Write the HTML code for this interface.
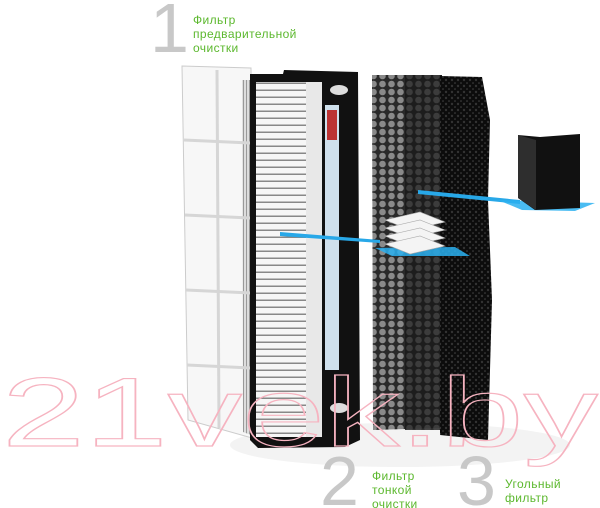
<!DOCTYPE html>
<html><head><meta charset="utf-8"><style>
html,body{margin:0;padding:0;background:#fff;width:600px;height:508px;overflow:hidden}
svg{display:block}
.g{font-family:"Liberation Sans","DejaVu Sans",sans-serif;fill:#5cb82e;font-size:12px;letter-spacing:0.4px}
.n{font-family:"Liberation Sans",sans-serif;fill:#c8c8c8;font-size:70px}
</style></head><body>
<svg width="600" height="508" viewBox="0 0 600 508" xmlns="http://www.w3.org/2000/svg">
<defs>
<pattern id="pl" width="10" height="7" patternUnits="userSpaceOnUse">
<rect width="10" height="7" fill="#f6f6f6"/><rect y="5.5" width="10" height="1.5" fill="#888"/>
</pattern>
<pattern id="hex" width="9" height="8" patternUnits="userSpaceOnUse">
<rect width="9" height="8" fill="#2a2a2a"/><circle cx="4.5" cy="4" r="3.3" fill="#8a8a8a"/>
</pattern>
<pattern id="hex2" width="9" height="8" patternUnits="userSpaceOnUse">
<rect width="9" height="8" fill="#1c1c1c"/><circle cx="4.5" cy="4" r="3.3" fill="#333"/>
</pattern>
<pattern id="foam" width="6" height="6" patternUnits="userSpaceOnUse">
<rect width="6" height="6" fill="#0c0c0c"/><circle cx="2" cy="2" r="1.2" fill="#333"/><circle cx="5" cy="5" r="0.8" fill="#444"/>
</pattern>
<pattern id="mesh" width="3" height="3" patternUnits="userSpaceOnUse">
<rect width="3" height="3" fill="#ddd"/><rect width="1" height="3" fill="#999"/>
</pattern>
</defs>

<ellipse cx="400" cy="445" rx="170" ry="22" fill="#f3f3f3"/>

<text class="n" x="150" y="52">1</text>
<text class="g"><tspan x="193" y="24">Фильтр</tspan><tspan x="193" y="38">предварительной</tspan><tspan x="193" y="52">очистки</tspan></text>

<!-- prefilter -->
<polygon points="182,66 251,68 252,438 188,420" fill="#f7f7f7" stroke="#ccc"/>
<polygon points="242,80 250,80 251,435 243,432" fill="url(#mesh)"/>
<g stroke="#d6d6d6" stroke-width="3" fill="none">
<line x1="217" y1="70" x2="219" y2="428"/>
<line x1="184" y1="140" x2="250" y2="143"/>
<line x1="185" y1="215" x2="250" y2="218"/>
<line x1="186" y1="290" x2="251" y2="293"/>
<line x1="187" y1="365" x2="251" y2="368"/>
</g>

<!-- fine filter -->
<polygon points="250,74 283,74 284,70 358,72 360,440 345,447 258,448 250,440" fill="#111"/>
<rect x="256" y="82" width="50" height="355" fill="url(#pl)"/>
<rect x="306" y="82" width="16" height="355" fill="#e8e8e8"/>
<rect x="325" y="105" width="14" height="265" fill="#cfe0ec"/>
<rect x="327" y="110" width="10" height="30" fill="#b33"/>
<ellipse cx="339" cy="90" rx="9" ry="5" fill="#ddd"/>
<ellipse cx="339" cy="408" rx="9" ry="5" fill="#ddd"/>

<!-- carbon mesh -->
<polygon points="372,75 442,75 442,428 373,430" fill="url(#hex)"/>
<rect x="405" y="75" width="37" height="355" fill="url(#hex2)" opacity="0.9"/>
<polygon points="440,76 482,77 490,120 488,200 492,300 488,440 440,435" fill="url(#foam)"/>

<!-- blue lines -->
<polygon points="280,232 380,240 380,243 280,236" fill="#28a8e8"/>
<polygon points="418,190 520,200 520,204 418,194" fill="#28a8e8"/>
<polygon points="375,248 455,247 470,256 392,256" fill="#2ab0f0" opacity="0.85"/>
<polygon points="498,200 595,203 575,211 522,210" fill="#2ab0f0" opacity="0.85"/>
<g fill="#f4f4f4" stroke="#aaa" stroke-width="0.6">
<polygon points="385,220 420,212 445,222 410,230"/>
<polygon points="385,228 420,220 445,230 410,238"/>
<polygon points="385,236 420,228 445,238 410,246"/>
<polygon points="385,244 420,236 445,246 410,254"/>
</g>
<polygon points="518,135 540,137 580,134 580,208 535,210 518,198" fill="#111"/>
<polygon points="518,135 536,140 536,210 518,198" fill="#2e2e2e"/>

<!-- watermark -->
<text x="2" y="446" font-family="Liberation Sans,sans-serif" font-size="98" fill="none" stroke="#f6b3c0" stroke-width="1.2" textLength="596" lengthAdjust="spacingAndGlyphs">21vek.by</text>

<text class="n" x="320" y="505">2</text>
<text class="g"><tspan x="372" y="480">Фильтр</tspan><tspan x="372" y="494">тонкой</tspan><tspan x="372" y="508">очистки</tspan></text>
<text class="n" x="457" y="505">3</text>
<text class="g"><tspan x="505" y="488">Угольный</tspan><tspan x="505" y="502">фильтр</tspan></text>
</svg>
</body></html>
